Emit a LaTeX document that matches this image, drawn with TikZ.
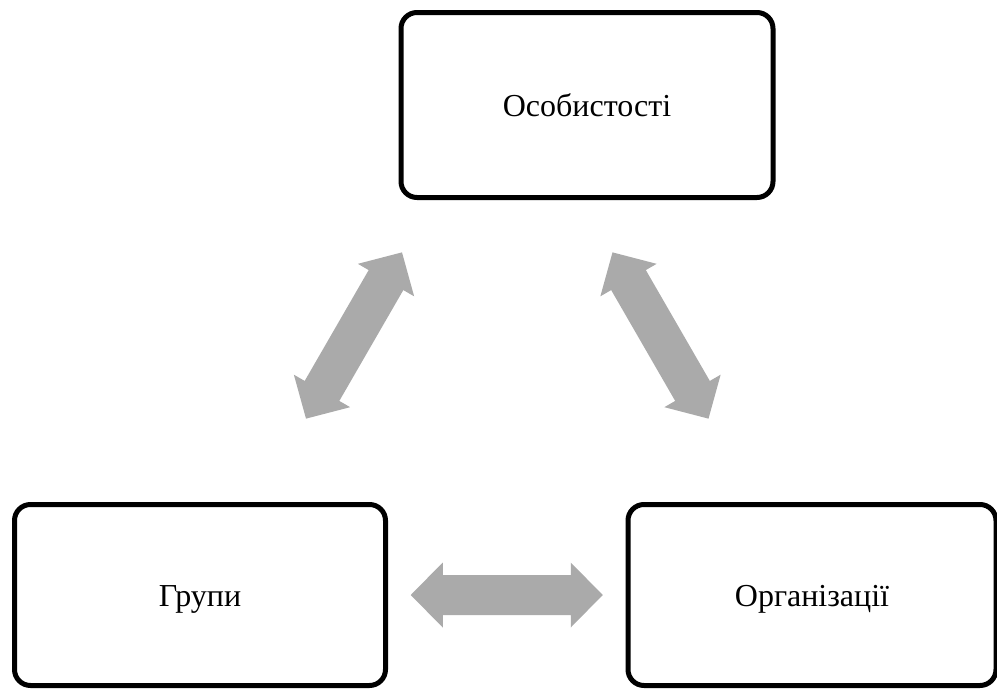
\documentclass[tikz,border=0pt]{standalone}
\usepackage{fontspec}
\setmainfont{Liberation Serif}
\usetikzlibrary{calc}

\definecolor{arrowgray}{RGB}{170,170,170}

\tikzset{
  box/.style={draw, line width=5pt, rounded corners=16pt, minimum width=371pt,
    minimum height=181pt, inner sep=0pt, outer sep=0pt, text height=23pt, text depth=0pt,
    font=\fontsize{32}{38}\selectfont},
  % double block arrow, centred on the pic origin
  dblarrow/.pic={
    \fill[arrowgray] (-96,0) -- (-64,-32.5) -- (-64,-20) -- (64,-20) -- (64,-32.5)
      -- (96,0) -- (64,32.5) -- (64,20) -- (-64,20) -- (-64,32.5) -- cycle;
  }
}

\begin{document}
\begin{tikzpicture}[x=1pt,y=-1pt]
\useasboundingbox (0,0) rectangle (997,691);

% the three boxes
\node[box, minimum width=372pt, minimum height=185pt] (osob) at (587,105) {Особистості};
\node[box] (grp) at (200,595) {Групи};
\node[box, minimum width=368pt] (org) at (812,595) {Організації};

% centres of the arrows
\coordinate (osobgrp) at (354,335.5);
\coordinate (osoborg) at (660.5,335.5);
\coordinate (grporg) at ($(grp.east)!0.5!(org.west)$);

% double arrows
\pic[rotate=60] at (osobgrp) {dblarrow};
\pic[rotate=-60] at (osoborg) {dblarrow};
\pic at (grporg) {dblarrow};

\end{tikzpicture}
\end{document}
